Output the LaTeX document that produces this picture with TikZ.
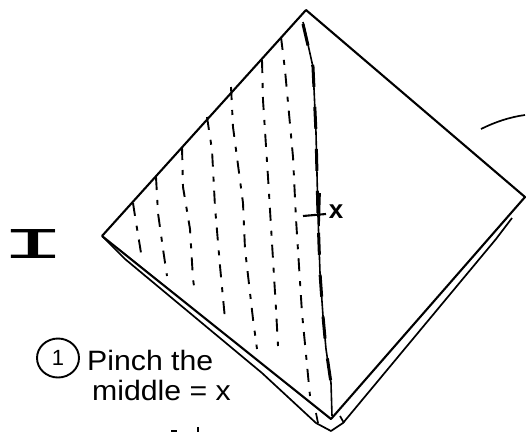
\documentclass[tikz,border=0pt]{standalone}
\usepackage{fontspec}
\usetikzlibrary{shapes.geometric}
\setmainfont{Liberation Sans}
\newfontfamily\slabfont{Liberation Mono}
\begin{document}
\begin{tikzpicture}[x=1pt,y=-1pt,line join=round,
  edge/.style={draw=black,line width=2.1pt},
  thinedge/.style={draw=black,line width=1.7pt},
  hatch/.style={draw=black,line width=1.9pt,dash pattern=on 13pt off 10pt on 5pt off 9pt},
  crease/.style={draw=black,line width=1.6pt},
  creasethick/.style={draw=black,line width=3pt,dash pattern=on 22pt off 20pt},
  hand/.style={inner sep=0pt,font=\fontsize{28}{28}\selectfont,anchor=base west}]
\useasboundingbox (0,0) rectangle (526,432);
% corners of the folded square
\coordinate (apex) at (306,10);
\coordinate (right) at (525,197);
\coordinate (left) at (102,236);
\coordinate (bot) at (331,419);
\coordinate (botout) at (331,431);
% main outline
\draw[edge] (left) -- (apex) -- (right) -- (bot) -- (left);
% lower fold edges
\draw[thinedge] (left) -- (125,259) -- (262,373) -- (316,423) -- (botout) -- (343,423) -- (496,239) -- (512,218);
\draw[thinedge] (316,413) -- (318,423) (340,416) -- (344,423);
% central crease
\draw[crease] (303,22) -- (313,67) -- (316,133) -- (318,216) -- (320,273) -- (323,316) -- (326,349) -- (331,383) -- (332,416);
\draw[creasethick] (303,24) -- (313,67) -- (316,133) -- (318,216) -- (320,273) -- (323,316) -- (326,349) -- (331,383);
% dashed parallels
\draw[hatch] (133,203) -- (135,216) -- (142,259);
\draw[hatch] (156,177) -- (158,213) -- (163,249) -- (167,276);
\draw[hatch] (182,147) -- (183,187) -- (190,229) -- (193,279) -- (195,293);
\draw[hatch] (207,117) -- (212,150) -- (215,207) -- (220,266) -- (225,319);
\draw[hatch] (231,87) -- (233,127) -- (243,203) -- (245,249) -- (253,319) -- (257,349);
\draw[hatch] (262,60) -- (263,100) -- (268,177) -- (272,243) -- (276,309) -- (278,346);
\draw[hatch] (281,37) -- (285,70) -- (293,157) -- (296,219) -- (302,313) -- (310,396);
% mark x
\coordinate (xa) at (303,216);
\coordinate (xb) at (326,214);
\coordinate (xc) at (320,193);
\coordinate (xd) at (319,226);
\draw[edge] (xa) -- (xb);
\draw[thinedge] (xc) -- (xd);
\node[inner sep=0pt,font=\fontsize{26}{26}\selectfont\bfseries] (xlabel) at (336,212) {x};
% curved stroke at right
\coordinate (ca) at (481,129);
\coordinate (cb) at (525,115);
\draw[thinedge] (ca) .. controls (495,122) and (510,117) .. (cb);
% roman numeral
\node[inner sep=0pt,font=\fontsize{44}{44}\selectfont\slabfont,xscale=2.5] (num) at (34,244) {I};
% step number and caption
\node[draw=black,line width=1.9pt,ellipse,minimum width=42pt,minimum height=39pt,inner sep=0pt,font=\fontsize{22}{22}\selectfont] (stepnum) at (58,358) {1};
\node[hand,xscale=1.08] (cap1) at (87,370) {Pinch the};
\node[hand,xscale=1.08] (cap2) at (92,400) {middle = x};
% cut-off marks at the lower edge
\coordinate (ma) at (171,431);
\coordinate (mb) at (177,431);
\coordinate (mc) at (198,427);
\coordinate (md) at (198,432);
\draw[thinedge] (ma) -- (mb) (mc) -- (md);
\end{tikzpicture}
\end{document}
